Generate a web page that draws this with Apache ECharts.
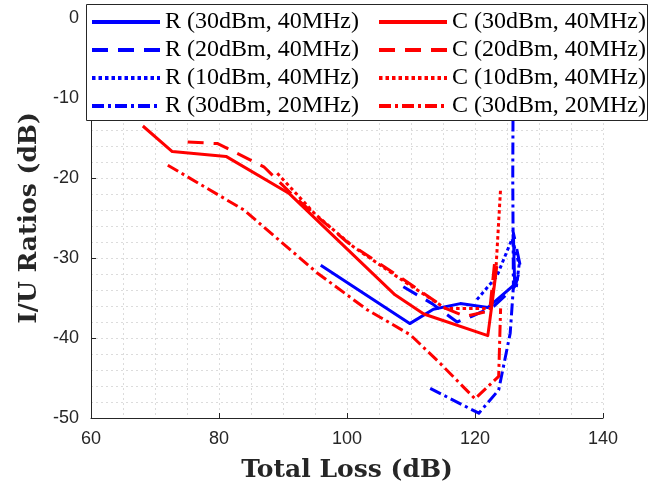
<!DOCTYPE html>
<html>
<head>
<meta charset="utf-8">
<script src="https://cdn.jsdelivr.net/npm/echarts@6/dist/echarts.min.js"></script>
<style>
  html, body { margin: 0; padding: 0; background: #ffffff; }
  #chart { width: 650px; height: 491px; }
</style>
</head>
<body>
<div id="chart"></div>
<script>
// Axis ticks
const xTicks = [60, 80, 100, 120, 140];
const yTicks = [-50, -40, -30, -20, -10, 0];

// Series names (R = blue, C = red)
const rNames = ['R (30dBm, 40MHz)', 'R (20dBm, 40MHz)', 'R (10dBm, 40MHz)', 'R (30dBm, 20MHz)'];
const cNames = ['C (30dBm, 40MHz)', 'C (20dBm, 40MHz)', 'C (10dBm, 40MHz)', 'C (30dBm, 20MHz)'];

// [Total Loss (dB), I/U ratio (dB)]
const r30_40 = [[95.9, -30.9], [109.8, -38.2], [113.5, -36.4], [117.7, -35.7], [122.0, -36.2], [126.2, -33.3], [126.0, -27.0]];
const r20_40 = [[108.8, -33.6], [113.3, -35.7], [117.2, -38.0], [119.5, -37.3], [123.0, -36.0], [126.3, -33.5], [127.1, -31.1], [126.3, -28.0], [125.9, -26.5]];
const r10_40 = [[120.3, -35.2], [123.4, -32.3], [125.8, -27.6], [126.9, -30.8], [126.4, -34.0]];
const r30_20 = [[113.0, -46.3], [120.6, -49.4], [123.7, -46.5], [125.5, -39.4], [126.0, -33.6], [125.9, -20.0], [126.0, 0.0]];

const c30_40 = [[68.1, -13.5], [72.7, -16.7], [81.1, -17.3], [90.9, -21.9], [107.5, -34.6], [112.0, -37.0], [122.0, -39.7], [122.7, -35.5], [123.4, -31.0]];
const c20_40 = [[75.1, -15.5], [79.8, -15.7], [87.0, -18.6], [92.0, -22.5], [100.0, -28.0], [108.3, -32.4], [115.4, -36.3], [118.5, -37.3], [122.3, -36.6], [123.2, -29.5]];
const c10_40 = [[89.1, -19.4], [95.0, -24.5], [101.0, -28.6], [108.3, -32.6], [115.4, -36.3], [122.5, -36.3], [123.3, -31.0], [124.0, -21.3]];
const c30_20 = [[72.0, -18.4], [83.9, -24.0], [95.4, -31.9], [103.2, -36.5], [109.9, -39.6], [114.6, -43.2], [120.0, -47.6], [123.7, -44.8], [124.0, -36.3]];

const BLUE = '#0000ff';
const RED = '#ff0000';
const styles = {
  solid: 'solid',
  dashed: [16, 10],
  dotted: [3.5, 3],
  dashdot: [12, 4, 3, 4]
};
const styleOrder = ['solid', 'dashed', 'dotted', 'dashdot'];

function makeSeries(name, data, color, styleKey) {
  return {
    name: name,
    type: 'line',
    data: data,
    symbol: 'none',
    animation: false,
    clip: true,
    z: 2,
    lineStyle: { color: color, width: 3, type: styles[styleKey], cap: 'butt', join: 'round' },
    itemStyle: { color: color }
  };
}

const rData = [r30_40, r20_40, r10_40, r30_20];
const cData = [c30_40, c20_40, c10_40, c30_20];
const series = [];
rNames.forEach((n, i) => series.push(makeSeries(n, rData[i], BLUE, styleOrder[i])));
cNames.forEach((n, i) => series.push(makeSeries(n, cData[i], RED, styleOrder[i])));

const tickFont = { fontFamily: 'Liberation Sans', fontSize: 18, color: '#262626' };
const gridLine = { show: true, lineStyle: { color: '#dcdcdc', type: [2, 3], width: 1 } };
const titleFont = { fontFamily: 'DejaVu Serif', fontWeight: 'bold', fontSize: 25, color: '#262626' };

// Legend: thick line sample only, no marker dot
const legendCommon = {
  orient: 'vertical',
  top: 10,
  padding: 0,
  itemGap: 4,
  itemWidth: 68,
  itemHeight: 14,
  z: 20,
  selectedMode: false,
  itemStyle: { opacity: 0 },
  lineStyle: { width: 4 },
  textStyle: { fontFamily: 'Liberation Serif', fontSize: 24, color: '#000' }
};

const chart = echarts.init(document.getElementById('chart'), null, { renderer: 'canvas' });
chart.setOption({
  animation: false,
  backgroundColor: '#ffffff',
  grid: { left: 91, right: 47, top: 18, bottom: 73, containLabel: false },
  xAxis: {
    type: 'value', min: xTicks[0], max: xTicks[xTicks.length - 1], interval: 20,
    name: 'Total Loss (dB)', nameLocation: 'middle', nameGap: 40,
    nameTextStyle: titleFont,
    axisLine: { show: true, onZero: false, lineStyle: { color: '#262626', width: 1 } },
    axisTick: { show: true, inside: true, length: 5, lineStyle: { color: '#262626' } },
    axisLabel: Object.assign({ margin: 12 }, tickFont),
    splitLine: gridLine,
    minorTick: { show: false, splitNumber: 4 },
    minorSplitLine: gridLine
  },
  yAxis: {
    type: 'value', min: yTicks[0], max: yTicks[yTicks.length - 1], interval: 10,
    name: 'I/U Ratios (dB)', nameLocation: 'middle', nameGap: 48, nameRotate: 90,
    nameTextStyle: titleFont,
    axisLine: { show: true, onZero: false, lineStyle: { color: '#262626', width: 1 } },
    axisTick: { show: true, inside: true, length: 5, lineStyle: { color: '#262626' } },
    axisLabel: Object.assign({ margin: 12 }, tickFont),
    splitLine: gridLine,
    minorTick: { show: false, splitNumber: 5 },
    minorSplitLine: gridLine
  },
  legend: [
    Object.assign({ left: 90, data: rNames }, legendCommon),
    Object.assign({ left: 377, data: cNames }, legendCommon)
  ],
  graphic: [{
    type: 'rect',
    z: 10,
    shape: { x: 86.5, y: 4.5, width: 561, height: 116 },
    style: { fill: '#ffffff', stroke: '#262626', lineWidth: 1 }
  }],
  series: series
});
</script>
</body>
</html>
